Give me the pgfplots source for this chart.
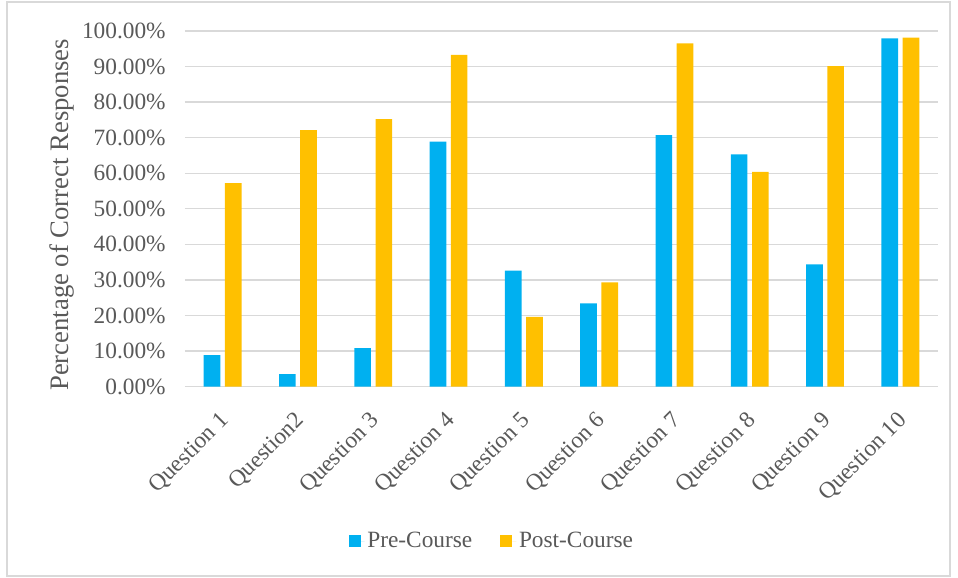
\documentclass[border=0pt]{standalone}
\usepackage{fontspec}
\setmainfont{Liberation Serif}
\usepackage{pgfplots}
\pgfplotsset{compat=1.18}
\definecolor{precourse}{HTML}{00B0F0}
\definecolor{postcourse}{HTML}{FFC000}
\definecolor{txtgray}{HTML}{595959}
\definecolor{gridgray}{HTML}{D9D9D9}

\begin{document}
\begin{tikzpicture}
% overall chart area and its frame
\useasboundingbox (-138.75pt,-143.5pt) rectangle (579.75pt,290pt);
\draw[gridgray, line width=1pt] (-133.5pt,-142pt) rectangle (573.75pt,288.5pt);
\begin{axis}[
  scale only axis,
  width=564.75pt, height=266.8pt,
  at={(0,0)}, anchor=south west,
  ybar=3.4pt, bar width=12.5pt,
  xmin=-0.5, xmax=9.5,
  ymin=0, ymax=100,
  xtick={0,...,9},
  xticklabels={Question 1,Question2,Question 3,Question 4,Question 5,Question 6,Question 7,Question 8,Question 9,Question 10},
  ytick={0,10,...,100},
  yticklabel={\pgfmathprintnumber[fixed,fixed zerofill,precision=2]{\tick}\%},
  /pgf/number format/assume math mode=true,
  ymajorgrids,
  grid style={gridgray, line width=1pt},
  axis lines*=left,
  y axis line style={draw=none},
  x axis line style={gridgray, line width=1pt},
  major tick length=0pt,
  tick style={draw=none},
  yticklabel shift=11pt,
  xticklabel shift=13pt,
  yticklabel style={text=txtgray, font=\fontsize{17.5}{20}\selectfont},
  xticklabel style={text=txtgray, font=\fontsize{17.5}{20}\selectfont, xshift=-3pt, rotate=45, anchor=north east},
  ylabel={Percentage of Correct Responses},
  ylabel style={at={(axis description cs:-0.163,0.483)}, anchor=center, text=txtgray, font=\fontsize{20}{24}\selectfont},
  legend style={at={(axis description cs:0.408,-0.434)}, anchor=center, draw=none,
    font=\fontsize{17.5}{20}\selectfont, text=txtgray,
    /tikz/every even column/.append style={column sep=19pt}},
  legend columns=2,
  legend image code/.code={%
    \fill[#1, draw=none] (0pt,-4.5pt) rectangle (9pt,4.5pt);
    \path (9pt,0pt) -- (12pt,0pt);},
]
\addplot[fill=precourse, draw=none] coordinates {
  (0,8.9) (1,3.5) (2,10.8) (3,68.9) (4,32.6) (5,23.4) (6,70.7) (7,65.3) (8,34.4) (9,97.9)};
\addplot[fill=postcourse, draw=none] coordinates {
  (0,57.2) (1,72.1) (2,75.2) (3,93.3) (4,19.6) (5,29.3) (6,96.5) (7,60.4) (8,90.1) (9,98.1)};
\legend{Pre-Course, Post-Course}
\end{axis}
\end{tikzpicture}
\end{document}
